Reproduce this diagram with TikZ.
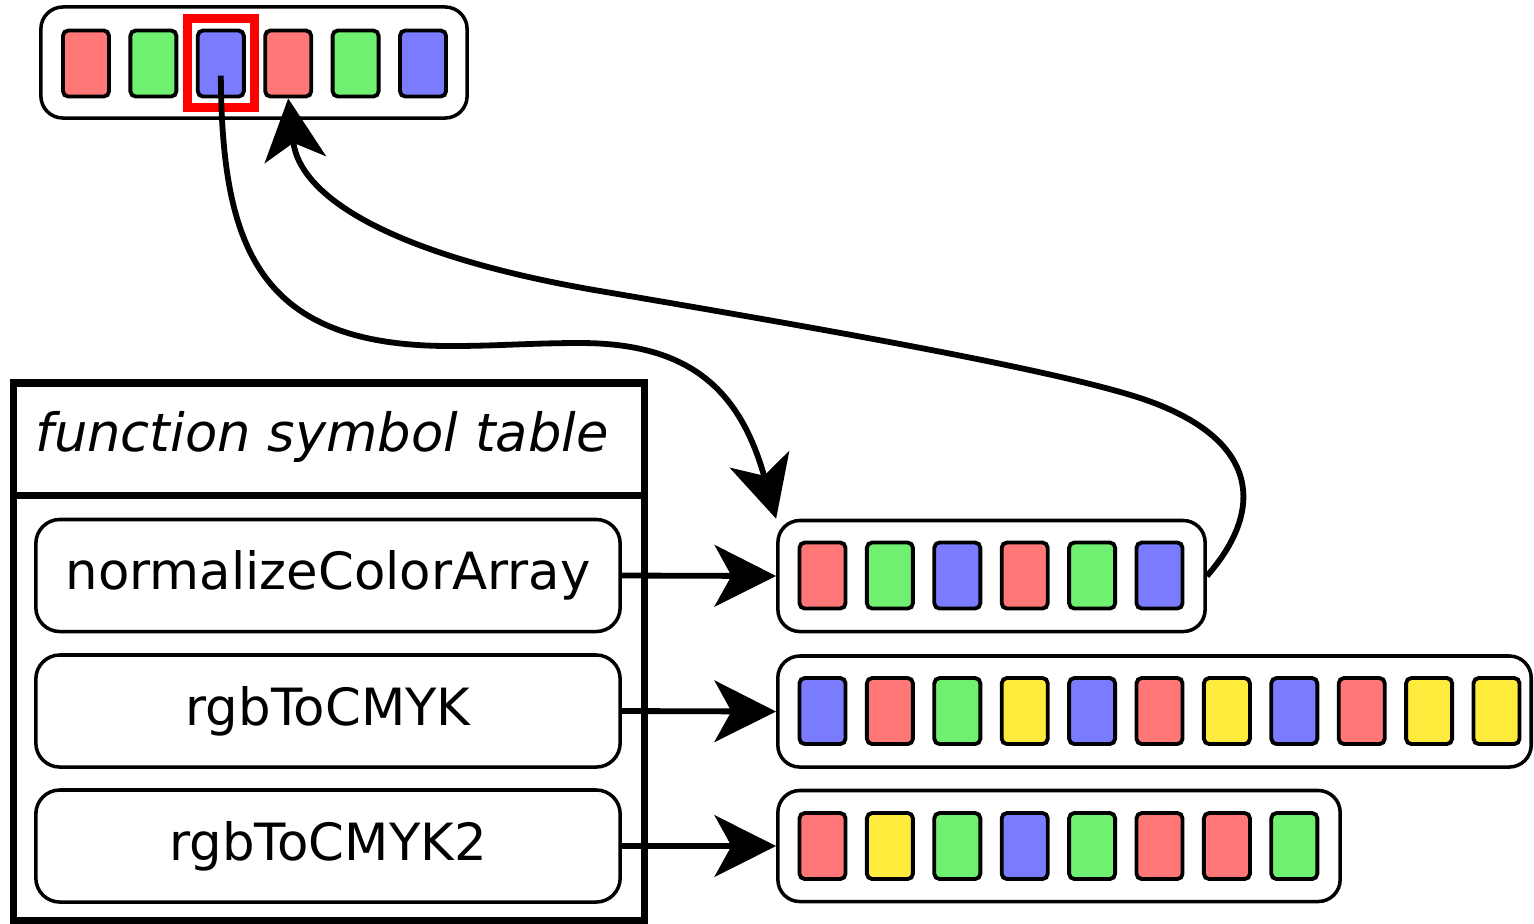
\documentclass[tikz,border=0pt]{standalone}
\usepackage{fontspec}
\setmainfont{DejaVu Sans}
\usetikzlibrary{arrows.meta}
\definecolor{cr}{HTML}{FF7777}
\definecolor{cg}{HTML}{70F070}
\definecolor{cb}{HTML}{7B7BFF}
\definecolor{cy}{HTML}{FFEB3B}
\def\darr{\draw[line width=1.65pt,-{Stealth[length=17.5pt,width=17.5pt,inset=4.8pt]}]}
\newcommand\cells[4]{\foreach \col [count=\i] in {#4}
  \node[cell,fill=\col] (#1\i) at ({#2+67.4*(\i-1)},#3) {};}

\begin{document}
\begin{tikzpicture}[x=0.01cm,y=-0.01cm,
    cell/.style={draw,line width=1.1pt,rounded corners=1.5pt,inner sep=0pt,
                 minimum width=0.46cm,minimum height=0.66cm},
    arrbox/.style={draw,line width=1pt,rounded corners=0.22cm,inner sep=0pt,minimum height=1.11cm},
    fnbox/.style={draw,line width=1pt,rounded corners=0.24cm,minimum width=5.84cm,
                  minimum height=1.12cm,font=\fontsize{14.6}{17}\selectfont},
    hilite/.style={draw=red,line width=2.5pt,inner sep=0pt,minimum width=0.665cm,minimum height=0.885cm}]
  \useasboundingbox (0,0) rectangle (1534,923);
  % the arrays
  \node[arrbox,minimum width=4.26cm] (top) at (254,62.5) {};
  \node[arrbox,minimum width=4.27cm] (a1) at (991.5,576) {};
  \node[arrbox,minimum width=7.53cm] (a2) at (1154.5,711.5) {};
  \node[arrbox,minimum width=5.62cm] (a3) at (1059,846) {};
  \cells{t}{86}{63.5}{cr,cg,cb,cr,cg,cb}
  \cells{p}{822.5}{575.5}{cr,cg,cb,cr,cg,cb}
  \cells{q}{822.5}{711}{cb,cr,cg,cy,cb,cr,cy,cb,cr,cy,cy}
  \cells{r}{822.5}{846}{cr,cy,cg,cb,cg,cr,cr,cg}
  \node[hilite] (sel) at (221,63) {};
  % symbol table
  \node[draw,line width=2pt,minimum width=6.3cm,minimum height=5.37cm] (tbl) at (329,651.5) {};
  \node[draw,line width=2pt,minimum width=6.3cm,minimum height=1.12cm] (hdr) at (329,439) {};
  \node[font=\fontsize{15}{18}\selectfont\itshape] (title) at (322,437) {function symbol table};
  \node[fnbox] (f1) at (328,575.5) {normalizeColorArray};
  \node[fnbox] (f2) at (328,711) {rgbToCMYK};
  \node[fnbox] (f3) at (328,846) {rgbToCMYK2};
  % links
  \darr (f1.east) -- (a1.west);
  \darr (f2.east) -- (a2.west);
  \darr (f3.east) -- (a3.west);
  \darr ([yshift=-0.12cm]t3.center) .. controls (222,250) and (260,346) .. (450,346)
        .. controls (500,346) and (530,343) .. (580,343)
        .. controls (690,343) and (740,390) .. (a1.north west);
  \darr (a1.east) .. controls (1265,510) and (1260,440) .. (1146,400)
        .. controls (1060,370) and (800,325) .. (600,291)
        .. controls (400,257) and (300,200) .. (t4.south);
\end{tikzpicture}
\end{document}
